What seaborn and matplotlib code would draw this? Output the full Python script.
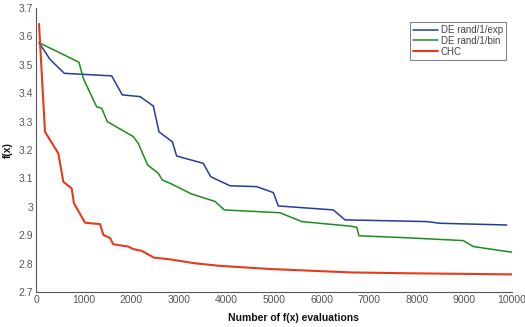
import matplotlib
matplotlib.use("Agg")
import matplotlib.pyplot as plt
import seaborn as sns
import pandas as pd

sns.set_theme(style="white")
plt.rcParams['font.family'] = ['Liberation Sans', 'DejaVu Sans']

exp_x = [63, 294, 595, 1590, 1813, 2185, 2465, 2584, 2864, 2955, 3060, 3515, 3669, 4076, 4636, 4986, 5091, 6246, 6492, 8207, 8487, 9888]
exp_y = [3.578, 3.519, 3.470, 3.461, 3.394, 3.388, 3.355, 3.264, 3.229, 3.179, 3.174, 3.153, 3.106, 3.074, 3.071, 3.050, 3.003, 2.989, 2.954, 2.948, 2.942, 2.936]

bin_x = [63, 903, 994, 1274, 1380, 1498, 2045, 2150, 2346, 2570, 2654, 2815, 3270, 3760, 3956, 5126, 5581, 6597, 6737, 6786, 7787, 8977, 9188, 10000]
bin_y = [3.578, 3.509, 3.452, 3.352, 3.347, 3.300, 3.247, 3.223, 3.147, 3.118, 3.094, 3.083, 3.045, 3.019, 2.989, 2.979, 2.948, 2.932, 2.928, 2.898, 2.891, 2.881, 2.860, 2.840]

chc_x = [63, 189, 469, 574, 749, 798, 1029, 1345, 1415, 1555, 1625, 1940, 2045, 2220, 2479, 2815, 3340, 3866, 4916, 6597, 7787, 9993]
chc_y = [3.644, 3.264, 3.188, 3.088, 3.065, 3.012, 2.944, 2.939, 2.901, 2.890, 2.868, 2.860, 2.851, 2.845, 2.821, 2.815, 2.801, 2.792, 2.781, 2.769, 2.766, 2.762]

series_names = ["DE rand/1/exp", "DE rand/1/bin", "CHC"]
x_ticks = [0, 1000, 2000, 3000, 4000, 5000, 6000, 7000, 8000, 9000, 10000]
y_ticks = [2.7, 2.8, 2.9, 3.0, 3.1, 3.2, 3.3, 3.4, 3.5, 3.6, 3.7]
y_tick_labels = ["2.7", "2.8", "2.9", "3", "3.1", "3.2", "3.3", "3.4", "3.5", "3.6", "3.7"]

df = pd.concat([
    pd.DataFrame({"x": exp_x, "y": exp_y, "s": series_names[0]}),
    pd.DataFrame({"x": bin_x, "y": bin_y, "s": series_names[1]}),
    pd.DataFrame({"x": chc_x, "y": chc_y, "s": series_names[2]}),
])

colors = {series_names[0]: "#233c9c", series_names[1]: "#1c8c1c", series_names[2]: "#e53a1c"}
widths = {series_names[0]: 1.1, series_names[1]: 1.1, series_names[2]: 1.5}

fig = plt.figure(figsize=(5.25, 3.27), dpi=100)
ax = fig.add_axes([36/525, 35/327, 476/525, 284/327])

for name in series_names:
    sns.lineplot(data=df[df["s"] == name], x="x", y="y", color=colors[name],
                 lw=widths[name], ax=ax, label=name, sort=False, estimator=None)

ax.set_xlim(0, 10000)
ax.set_ylim(2.7, 3.7)
ax.set_xticks(x_ticks)
ax.set_xticklabels([str(t) for t in x_ticks])
ax.set_yticks(y_ticks)
ax.set_yticklabels(y_tick_labels)
ax.tick_params(direction="in", length=3, width=0.8, colors="#555555",
               labelsize=7.5, labelcolor="#555555", pad=2)
for side in ["top", "right"]:
    ax.spines[side].set_visible(False)
for side in ["left", "bottom"]:
    ax.spines[side].set_color("#555555")
    ax.spines[side].set_linewidth(0.8)

ax.set_xlabel("Number of f(x) evaluations", fontsize=7.5, fontweight="bold", labelpad=7, color="#111111")
ax.xaxis.set_label_coords((293 - 36) / 476, -0.075)
ax.set_ylabel("f(x)", fontsize=7.5, fontweight="bold", color="#111111")
ax.yaxis.set_label_coords(-(36 - 13) / 476, 0.5)

leg = ax.legend(loc="upper right", fontsize=7,
                frameon=True, fancybox=False, handlelength=2.6, handletextpad=0.3,
                borderpad=0.3, labelspacing=0.1, borderaxespad=0)
leg.set_bbox_to_anchor((506/525, 1 - 22/327), transform=fig.transFigure)
leg.get_frame().set_edgecolor("#666666")
leg.get_frame().set_linewidth(0.8)
for t in leg.get_texts():
    t.set_color("#444444")

fig.savefig("out.png", dpi=100, facecolor="white")
